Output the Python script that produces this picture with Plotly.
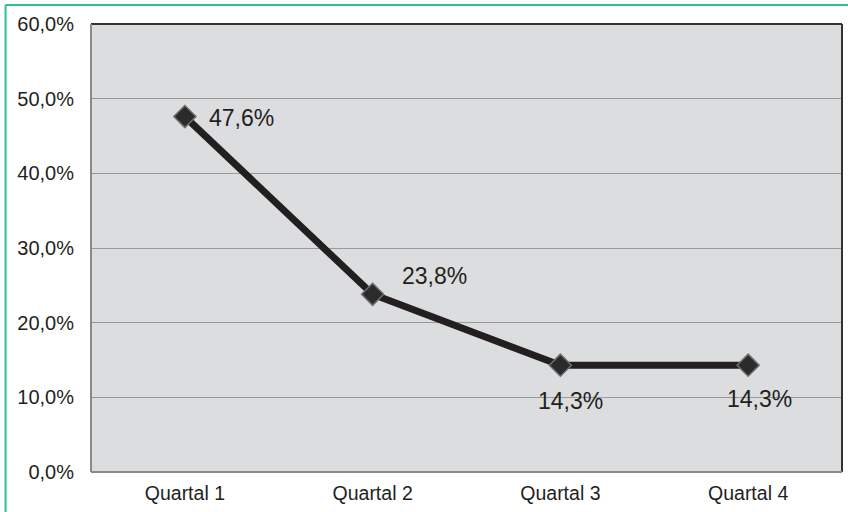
import plotly.graph_objects as go

categories = ["Quartal 1", "Quartal 2", "Quartal 3", "Quartal 4"]
values = [47.6, 23.8, 14.3, 14.3]
labels = ["47,6%", "23,8%", "14,3%", "14,3%"]
tick_vals = [0, 10, 20, 30, 40, 50, 60]
tick_text = ["0,0%", "10,0%", "20,0%", "30,0%", "40,0%", "50,0%", "60,0%"]
# label offsets (px) relative to each point
label_dx = [22, 27, 10, 11]
label_dy = [-1, 18, -36, -34]
label_anchor = ["left", "left", "center", "center"]

FONT = "Liberation Sans, Arial, sans-serif"

fig = go.Figure()
fig.add_trace(go.Scatter(
    x=categories, y=values, mode="lines+markers",
    line=dict(color="#231f20", width=7),
    marker=dict(symbol="diamond", size=17, color="#2b2b2b",
                line=dict(color="#6e6e6e", width=1.5)),
    hoverinfo="skip", showlegend=False,
))

for c, v, t, dx, dy, a in zip(categories, values, labels, label_dx, label_dy, label_anchor):
    fig.add_annotation(x=c, y=v, text=t, showarrow=False, xanchor=a, yanchor="middle",
                       xshift=dx, yshift=dy,
                       font=dict(family=FONT, size=23, color="#231f20"))

# plot frame: top/right darker, left/bottom gray
fig.add_shape(type="line", xref="paper", yref="paper", x0=0, x1=1, y0=1, y1=1,
              line=dict(color="#333333", width=2))
fig.add_shape(type="line", xref="paper", yref="paper", x0=1, x1=1, y0=0, y1=1,
              line=dict(color="#333333", width=2))
fig.add_shape(type="line", xref="paper", yref="paper", x0=0, x1=0, y0=0, y1=1,
              line=dict(color="#8a8a8a", width=2))
fig.add_shape(type="line", xref="paper", yref="paper", x0=0, x1=1, y0=0, y1=0,
              line=dict(color="#8a8a8a", width=2))
# outer green border (left and top)
fig.add_shape(type="line", xref="paper", yref="paper", x0=-0.1138, x1=-0.1138, y0=-0.2, y1=1.0424,
              line=dict(color="#2fbf94", width=2))
fig.add_shape(type="line", xref="paper", yref="paper", x0=-0.1138, x1=1.05, y0=1.0424, y1=1.0424,
              line=dict(color="#2fbf94", width=2))

fig.update_layout(
    width=848, height=512,
    margin=dict(l=91, r=6, t=24, b=40),
    paper_bgcolor="white",
    plot_bgcolor="#dcdddf",
    font=dict(family=FONT, color="#231f20"),
    xaxis=dict(range=[-0.5, 3.5], showgrid=False, zeroline=False, showline=False,
               tickfont=dict(family=FONT, size=19.5, color="#231f20"),
               ticklabelstandoff=7, fixedrange=True),
    yaxis=dict(range=[0, 60], tickvals=tick_vals, ticktext=tick_text,
               showgrid=True, gridcolor="#9a9a9a", gridwidth=1, zeroline=False,
               showline=False,
               tickfont=dict(family=FONT, size=20, color="#231f20"),
               ticklabelstandoff=16, fixedrange=True),
)

fig.write_html("out.html")
